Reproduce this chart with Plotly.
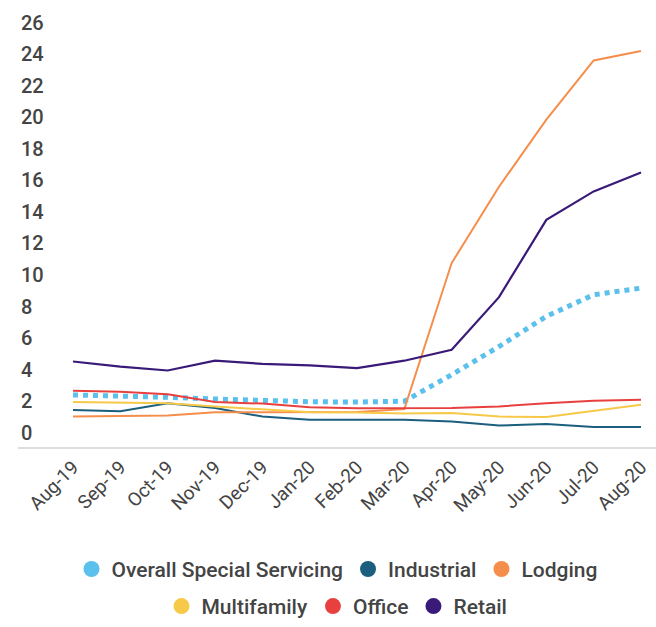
import plotly.graph_objects as go

months = ["Aug-19", "Sep-19", "Oct-19", "Nov-19", "Dec-19", "Jan-20", "Feb-20",
          "Mar-20", "Apr-20", "May-20", "Jun-20", "Jul-20", "Aug-20"]

overall = [2.4, 2.35, 2.25, 2.14, 2.05, 1.97, 1.95, 2.0, 3.68, 5.47, 7.38, 8.75, 9.17]
industrial = [1.44, 1.36, 1.88, 1.57, 1.03, 0.82, 0.82, 0.82, 0.72, 0.46, 0.55, 0.36, 0.36]
lodging = [1.03, 1.06, 1.1, 1.3, 1.32, 1.3, 1.32, 1.5, 10.76, 15.6, 19.85, 23.6, 24.2]
multifamily = [1.95, 1.9, 1.88, 1.67, 1.5, 1.3, 1.28, 1.22, 1.25, 1.03, 1.0, 1.41, 1.78]
office = [2.66, 2.6, 2.45, 1.95, 1.85, 1.62, 1.55, 1.57, 1.57, 1.67, 1.88, 2.03, 2.09]
retail = [4.52, 4.2, 3.95, 4.57, 4.37, 4.27, 4.1, 4.57, 5.26, 8.6, 13.5, 15.3, 16.5]

y_ticks = list(range(0, 27, 2))

series = [
    ("Overall Special Servicing", overall, "#5BC0EB", "dot", 5, "legend"),
    ("Industrial", industrial, "#1B5E7E", "solid", 2, "legend"),
    ("Lodging", lodging, "#F58D4B", "solid", 2, "legend"),
    ("Multifamily", multifamily, "#F7C948", "solid", 2, "legend2"),
    ("Office", office, "#E8403F", "solid", 2, "legend2"),
    ("Retail", retail, "#3A1A78", "solid", 2.2, "legend2"),
]

x_idx = list(range(len(months)))

fig = go.Figure()
for name, vals, color, dash, w, lg in series:
    fig.add_trace(go.Scatter(
        x=x_idx, y=vals, mode="lines", name=name, showlegend=False,
        line=dict(color=color, width=w, dash=dash), legendgroup=name,
    ))
for name, vals, color, dash, w, lg in series:
    fig.add_trace(go.Scatter(
        x=[None], y=[None], mode="markers", name=name, legendgroup=name,
        legend=lg, marker=dict(color=color, size=17, symbol="circle"),
    ))

legend_font = dict(family="Roboto", size=21, color="#444", weight=500)

fig.update_layout(
    width=656, height=627,
    margin=dict(l=18, r=0, t=10, b=180),
    plot_bgcolor="white", paper_bgcolor="white",
    font=dict(family="Roboto", size=18, color="#444"),
    xaxis=dict(
        range=[-1.162, 12.317],
        tickmode="array", tickvals=x_idx, ticktext=months,
        tickangle=-45, tickfont=dict(size=19, color="#444", weight=400),
        showgrid=False, zeroline=False,
        showline=True, linecolor="#DDDDDD", linewidth=1.5,
        ticks="",
    ),
    yaxis=dict(
        range=[-0.9, 26.8],
        tickmode="array", tickvals=y_ticks,
        ticklabelposition="inside", tickfont=dict(size=20, color="#444", weight=500),
        showgrid=False, zeroline=False, showline=False, ticks="",
    ),
    legend=dict(
        orientation="h", x=0.5, xanchor="center", y=-0.233, yanchor="top",
        font=legend_font, itemsizing="trace", tracegroupgap=0,
    ),
    legend2=dict(
        orientation="h", x=0.5, xanchor="center", y=-0.318, yanchor="top",
        font=legend_font, itemsizing="trace", tracegroupgap=0,
    ),
)

fig.write_html("out.html")
